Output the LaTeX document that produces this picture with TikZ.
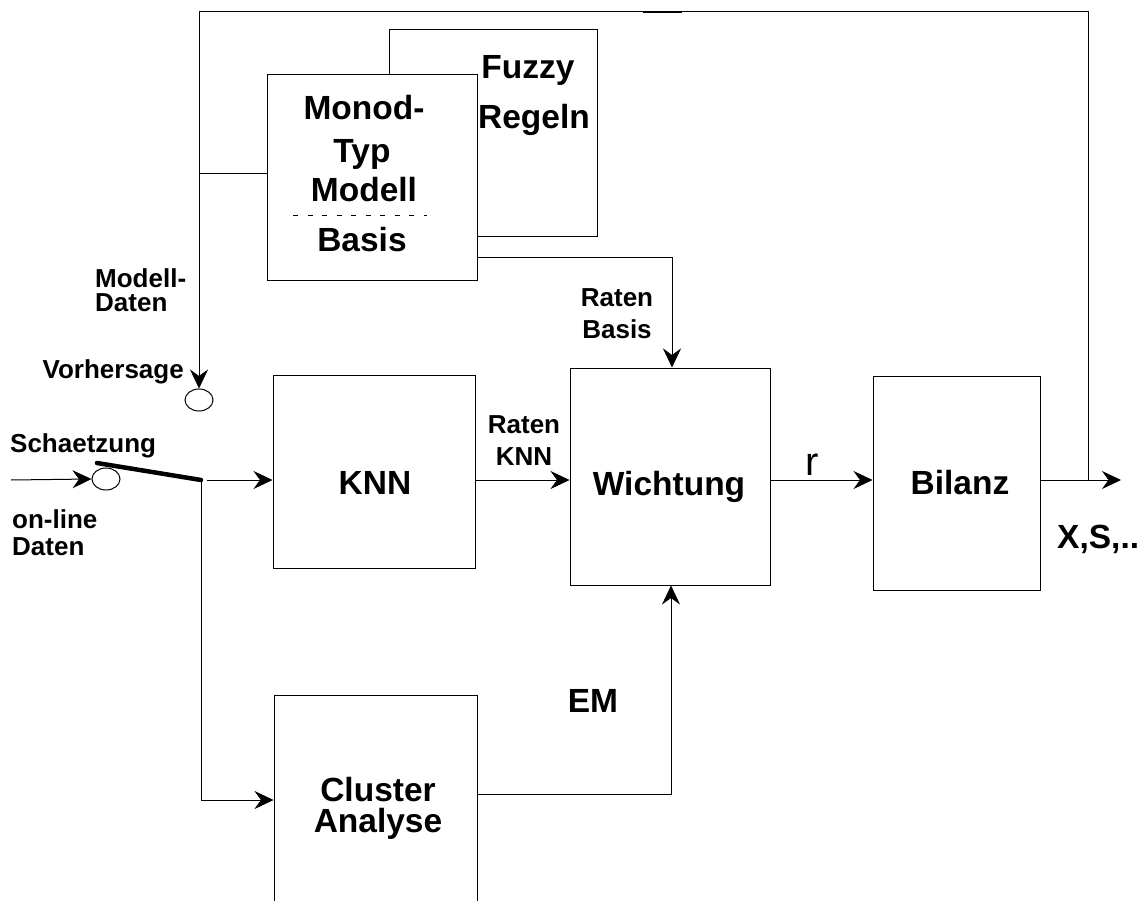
\documentclass[tikz,border=0pt]{standalone}
\usepackage{fontspec}
\setmainfont{Liberation Sans}
\usetikzlibrary{arrows.meta,shapes.geometric}
\begin{document}
\begin{tikzpicture}[x=1pt,y=-1pt,
  box/.style={draw, line width=1pt, fill=white, inner sep=0pt},
  big/.style={font=\fontsize{33.5}{33.5}\selectfont\bfseries, inner sep=0pt, anchor=base},
  small/.style={font=\fontsize{26}{26}\selectfont\bfseries, inner sep=0pt, anchor=base},
  ln/.style={line width=1pt},
  arr/.style={line width=1pt, -{Stealth[length=19pt,width=18pt,inset=6.5pt,line width=0.6pt]}},
  circ/.style={draw, line width=1pt, ellipse, minimum width=28pt, minimum height=22pt, inner sep=0pt}]
\useasboundingbox (0,0) rectangle (1138,901);
\clip (0,0) rectangle (1138,901);

% boxes
\node[box, minimum width=208pt, minimum height=207pt] (fuzzy) at (493,133.5) {};
\node[box, minimum width=210pt, minimum height=206pt] (monod) at (372,178) {};
\node[box, minimum width=202pt, minimum height=193pt] (knn) at (374,471.5) {};
\node[box, minimum width=200pt, minimum height=217pt] (wicht) at (670,476.5) {};
\node[box, minimum width=167pt, minimum height=214pt] (bilanz) at (956.5,483) {};
\node[box, minimum width=203pt, minimum height=210pt] (cluster) at (375.5,800) {};

% texts in boxes
\node[big] (tfuzzy) at (528,79) {Fuzzy};
\node[big] (tregeln) at (534,129) {Regeln};
\node[big] (tmonod) at (364,120) {Monod-};
\node[big] (ttyp) at (362,163) {Typ};
\node[big] (tmodell) at (364,202) {Modell};
\node[big] (tbasis) at (362,252) {Basis};
\draw[line width=1pt, dash pattern=on 5pt off 9.5pt] (293,216) -- (427,216);
\node[big] (tknn) at (375,494) {KNN};
\node[big] (twicht) at (669,495) {Wichtung};
\node[big] (tbilanz) at (960,494) {Bilanz};
\node[big] (tcluster) at (378,801) {Cluster};
\node[big] (tanalyse) at (378,832) {Analyse};

% labels
\node[small, anchor=base west] (lmod1) at (95,288) {Modell-};
\node[small, anchor=base west] (lmod2) at (95,312) {Daten};
\node[small, anchor=base east] (lvor) at (184,378) {Vorhersage};
\node[small, anchor=base west] (lsch) at (10,452) {Schaetzung};
\node[small, anchor=base west] (lon1) at (12,528) {on-line};
\node[small, anchor=base west] (lon2) at (12,555) {Daten};
\node[small] (lrk1) at (524,433) {Raten};
\node[small] (lrk2) at (524,465) {KNN};
\node[small] (lrb1) at (617,307) {Raten};
\node[small] (lrb2) at (617,338) {Basis};
\node[big] (lem) at (593,712) {EM};
\node[font=\fontsize{40}{40}\selectfont, inner sep=0pt, anchor=base] (lr) at (812,475) {r};
\node[big, anchor=base west] (lxs) at (1057,548) {X,S,..};

% circles and switch
\node[circ] (c1) at (106,479) {};
\node[circ] (c2) at (199,400) {};
\coordinate (in) at (11,480);
\coordinate (sw0) at (97,463);
\coordinate (sw1) at (201,480);
\coordinate (sw2) at (207,480);
\draw[line width=4.5pt, line cap=round] (sw0) -- (sw1);
\draw[arr] (in) -- (c1.west);

% main line
\coordinate (ml) at (0,480);
\draw[arr] (sw2) -- (knn.west |- ml);
\draw[arr] (knn.east |- ml) -- (wicht.west |- ml);
\draw[arr] (wicht.east |- ml) -- (bilanz.west |- ml);
\coordinate (out) at (1121,480);
\coordinate (j) at (1088,480);
\draw[arr] (bilanz.east |- ml) -- (out);

% feedback loop
\coordinate (tl) at (199,12);
\coordinate (br) at (199,174);
\draw[arr] (j) |- (tl) -- (c2.north);
\draw[ln] (br) -- (monod.west |- br);
\draw[line width=2.2pt] (643,12) -- (682,12);

% Raten Basis
\coordinate (rby) at (0,258);
\coordinate (rbc) at (672,258);
\draw[arr] (monod.east |- rby) -- (rbc) -- (rbc |- wicht.north);

% cluster
\coordinate (cy) at (0,800);
\draw[arr] (sw1) -- (sw1 |- cy) -- (cluster.west |- cy);
\coordinate (emy) at (0,794);
\coordinate (emc) at (671,794);
\draw[arr] (cluster.east |- emy) -- (emc) -- (emc |- wicht.south);
\end{tikzpicture}
\end{document}
